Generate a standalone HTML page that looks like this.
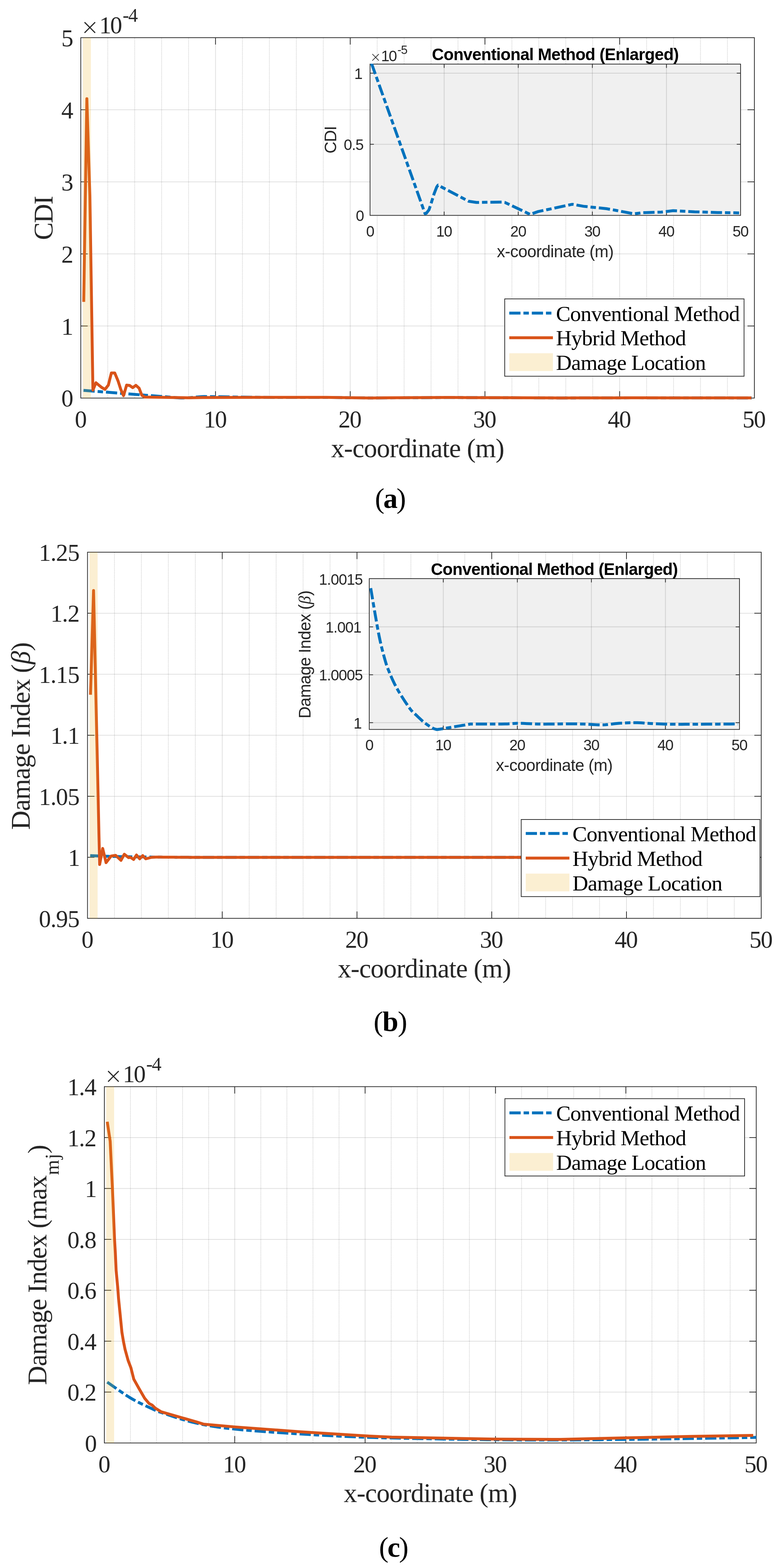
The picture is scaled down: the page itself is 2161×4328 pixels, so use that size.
<!DOCTYPE html>
<html lang="en">
<head>
<meta charset="utf-8">
<title>Damage index comparison: conventional vs hybrid method</title>
<style>
html,body{margin:0;padding:0;background:#fff;}
body{width:2161px;height:4328px;}
svg{display:block;}
text{white-space:pre;}
</style>
</head>
<body>
<svg width="2161" height="4328" viewBox="0 0 2161 4328">
<rect x="0" y="0" width="2161" height="4328" fill="#fff"/>
<line x1="297.36" y1="105" x2="297.36" y2="1097.75" stroke="#1a1a1a" stroke-width="2" stroke-opacity="0.21" stroke-dasharray="2 1.84"/>
<line x1="371.72" y1="105" x2="371.72" y2="1097.75" stroke="#1a1a1a" stroke-width="2" stroke-opacity="0.21" stroke-dasharray="2 1.84"/>
<line x1="446.08" y1="105" x2="446.08" y2="1097.75" stroke="#1a1a1a" stroke-width="2" stroke-opacity="0.21" stroke-dasharray="2 1.84"/>
<line x1="520.44" y1="105" x2="520.44" y2="1097.75" stroke="#1a1a1a" stroke-width="2" stroke-opacity="0.21" stroke-dasharray="2 1.84"/>
<line x1="669.16" y1="105" x2="669.16" y2="1097.75" stroke="#1a1a1a" stroke-width="2" stroke-opacity="0.21" stroke-dasharray="2 1.84"/>
<line x1="743.52" y1="105" x2="743.52" y2="1097.75" stroke="#1a1a1a" stroke-width="2" stroke-opacity="0.21" stroke-dasharray="2 1.84"/>
<line x1="817.88" y1="105" x2="817.88" y2="1097.75" stroke="#1a1a1a" stroke-width="2" stroke-opacity="0.21" stroke-dasharray="2 1.84"/>
<line x1="892.24" y1="105" x2="892.24" y2="1097.75" stroke="#1a1a1a" stroke-width="2" stroke-opacity="0.21" stroke-dasharray="2 1.84"/>
<line x1="1040.96" y1="105" x2="1040.96" y2="1097.75" stroke="#1a1a1a" stroke-width="2" stroke-opacity="0.21" stroke-dasharray="2 1.84"/>
<line x1="1115.32" y1="105" x2="1115.32" y2="1097.75" stroke="#1a1a1a" stroke-width="2" stroke-opacity="0.21" stroke-dasharray="2 1.84"/>
<line x1="1189.68" y1="105" x2="1189.68" y2="1097.75" stroke="#1a1a1a" stroke-width="2" stroke-opacity="0.21" stroke-dasharray="2 1.84"/>
<line x1="1264.04" y1="105" x2="1264.04" y2="1097.75" stroke="#1a1a1a" stroke-width="2" stroke-opacity="0.21" stroke-dasharray="2 1.84"/>
<line x1="1412.76" y1="105" x2="1412.76" y2="1097.75" stroke="#1a1a1a" stroke-width="2" stroke-opacity="0.21" stroke-dasharray="2 1.84"/>
<line x1="1487.12" y1="105" x2="1487.12" y2="1097.75" stroke="#1a1a1a" stroke-width="2" stroke-opacity="0.21" stroke-dasharray="2 1.84"/>
<line x1="1561.48" y1="105" x2="1561.48" y2="1097.75" stroke="#1a1a1a" stroke-width="2" stroke-opacity="0.21" stroke-dasharray="2 1.84"/>
<line x1="1635.84" y1="105" x2="1635.84" y2="1097.75" stroke="#1a1a1a" stroke-width="2" stroke-opacity="0.21" stroke-dasharray="2 1.84"/>
<line x1="1784.56" y1="105" x2="1784.56" y2="1097.75" stroke="#1a1a1a" stroke-width="2" stroke-opacity="0.21" stroke-dasharray="2 1.84"/>
<line x1="1858.92" y1="105" x2="1858.92" y2="1097.75" stroke="#1a1a1a" stroke-width="2" stroke-opacity="0.21" stroke-dasharray="2 1.84"/>
<line x1="1933.28" y1="105" x2="1933.28" y2="1097.75" stroke="#1a1a1a" stroke-width="2" stroke-opacity="0.21" stroke-dasharray="2 1.84"/>
<line x1="2007.64" y1="105" x2="2007.64" y2="1097.75" stroke="#1a1a1a" stroke-width="2" stroke-opacity="0.21" stroke-dasharray="2 1.84"/>
<line x1="594.8" y1="105" x2="594.8" y2="1097.75" stroke="#262626" stroke-width="2" stroke-opacity="0.15"/>
<line x1="966.6" y1="105" x2="966.6" y2="1097.75" stroke="#262626" stroke-width="2" stroke-opacity="0.15"/>
<line x1="1338.4" y1="105" x2="1338.4" y2="1097.75" stroke="#262626" stroke-width="2" stroke-opacity="0.15"/>
<line x1="1710.2" y1="105" x2="1710.2" y2="1097.75" stroke="#262626" stroke-width="2" stroke-opacity="0.15"/>
<line x1="224" y1="899.8" x2="2081" y2="899.8" stroke="#262626" stroke-width="2" stroke-opacity="0.15"/>
<line x1="224" y1="700.85" x2="2081" y2="700.85" stroke="#262626" stroke-width="2" stroke-opacity="0.15"/>
<line x1="224" y1="501.9" x2="2081" y2="501.9" stroke="#262626" stroke-width="2" stroke-opacity="0.15"/>
<line x1="224" y1="302.95" x2="2081" y2="302.95" stroke="#262626" stroke-width="2" stroke-opacity="0.15"/>
<rect x="223" y="104" width="1859" height="994.75" fill="none" stroke="#262626" stroke-width="2"/>
<line x1="594.8" y1="1098.75" x2="594.8" y2="1079.75" stroke="#262626" stroke-width="2"/>
<line x1="594.8" y1="104" x2="594.8" y2="123" stroke="#262626" stroke-width="2"/>
<line x1="966.6" y1="1098.75" x2="966.6" y2="1079.75" stroke="#262626" stroke-width="2"/>
<line x1="966.6" y1="104" x2="966.6" y2="123" stroke="#262626" stroke-width="2"/>
<line x1="1338.4" y1="1098.75" x2="1338.4" y2="1079.75" stroke="#262626" stroke-width="2"/>
<line x1="1338.4" y1="104" x2="1338.4" y2="123" stroke="#262626" stroke-width="2"/>
<line x1="1710.2" y1="1098.75" x2="1710.2" y2="1079.75" stroke="#262626" stroke-width="2"/>
<line x1="1710.2" y1="104" x2="1710.2" y2="123" stroke="#262626" stroke-width="2"/>
<line x1="223" y1="899.8" x2="242" y2="899.8" stroke="#262626" stroke-width="2"/>
<line x1="2082" y1="899.8" x2="2063" y2="899.8" stroke="#262626" stroke-width="2"/>
<line x1="223" y1="700.85" x2="242" y2="700.85" stroke="#262626" stroke-width="2"/>
<line x1="2082" y1="700.85" x2="2063" y2="700.85" stroke="#262626" stroke-width="2"/>
<line x1="223" y1="501.9" x2="242" y2="501.9" stroke="#262626" stroke-width="2"/>
<line x1="2082" y1="501.9" x2="2063" y2="501.9" stroke="#262626" stroke-width="2"/>
<line x1="223" y1="302.95" x2="242" y2="302.95" stroke="#262626" stroke-width="2"/>
<line x1="2082" y1="302.95" x2="2063" y2="302.95" stroke="#262626" stroke-width="2"/>
<text x="206.48" y="1179.75" font-family="&quot;Liberation Serif&quot;, serif" font-size="66.67" fill="#262626">0</text>
<text x="562.17" y="1179.75" font-family="&quot;Liberation Serif&quot;, serif" font-size="66.67" fill="#262626" textLength="64.47" lengthAdjust="spacing">10</text>
<text x="933.97" y="1179.75" font-family="&quot;Liberation Serif&quot;, serif" font-size="66.67" fill="#262626" textLength="64.47" lengthAdjust="spacing">20</text>
<text x="1305.77" y="1179.75" font-family="&quot;Liberation Serif&quot;, serif" font-size="66.67" fill="#262626" textLength="64.47" lengthAdjust="spacing">30</text>
<text x="1677.57" y="1179.75" font-family="&quot;Liberation Serif&quot;, serif" font-size="66.67" fill="#262626" textLength="64.47" lengthAdjust="spacing">40</text>
<text x="2049.37" y="1179.75" font-family="&quot;Liberation Serif&quot;, serif" font-size="66.67" fill="#262626" textLength="64.47" lengthAdjust="spacing">50</text>
<text x="169.27" y="1122.45" font-family="&quot;Liberation Serif&quot;, serif" font-size="66.67" fill="#262626">0</text>
<text x="169.27" y="923.5" font-family="&quot;Liberation Serif&quot;, serif" font-size="66.67" fill="#262626">1</text>
<text x="169.27" y="724.55" font-family="&quot;Liberation Serif&quot;, serif" font-size="66.67" fill="#262626">2</text>
<text x="169.27" y="525.6" font-family="&quot;Liberation Serif&quot;, serif" font-size="66.67" fill="#262626">3</text>
<text x="169.27" y="326.65" font-family="&quot;Liberation Serif&quot;, serif" font-size="66.67" fill="#262626">4</text>
<text x="169.27" y="127.7" font-family="&quot;Liberation Serif&quot;, serif" font-size="66.67" fill="#262626">5</text>
<text x="913.78" y="1261.95" font-family="&quot;Liberation Serif&quot;, serif" font-size="73.33" fill="#262626" textLength="478.44" lengthAdjust="spacing">x-coordinate (m)</text>
<text x="145.5" y="662.44" font-family="&quot;Liberation Serif&quot;, serif" font-size="73.33" fill="#262626" textLength="122.12" lengthAdjust="spacing" transform="rotate(-90 145.5 662.44)">CDI</text>
<text x="222.4" y="94.5" font-family="&quot;DejaVu Sans Light&quot;, &quot;DejaVu Sans&quot;, sans-serif" font-size="60.8" fill="#262626">×</text>
<text x="274" y="91.5" font-family="&quot;Liberation Serif&quot;, serif" font-size="66.67" fill="#262626" textLength="63.34" lengthAdjust="spacing">10</text>
<text x="338.5" y="59.7" font-family="&quot;Liberation Serif&quot;, serif" font-size="53.33" fill="#262626" textLength="42.2" lengthAdjust="spacing">-4</text>
<polyline points="230.44,1077.5 494.41,1098.15 499.25,1098.51 505.57,1098.45 518.95,1097.95 531.59,1096.88 544.61,1095.71 557.62,1094.77 563.94,1094.52 717.49,1096.77 756.53,1096.94 888.52,1096.89 899.68,1096.94 1026.09,1098.61 1066.99,1098.21 1238.01,1097.2 1293.78,1097.48 1409.04,1097.81 1457.38,1098.05 1546.61,1098.53 1591.22,1098.37 1684.17,1098.29 1743.66,1098.09 1851.48,1098.25 1966.74,1098.35 2074.56,1098.4" fill="none" stroke="#0072BD" stroke-width="8" stroke-linejoin="round" stroke-dasharray="31 8.1 15 8.1"/>
<polyline points="231.1,833.2 239.7,272.4 248,540 256.4,1077.05 264.8,1056.5 273.2,1063.5 280.3,1069.2 289.7,1074.8 299,1063.1 307.4,1029.5 316.7,1029.5 326,1051.9 333.5,1075.2 341,1092 349.4,1063.1 357.8,1064 366.2,1070 374.9,1063.6 383.9,1071.5 391.4,1091 399.8,1096.1 450,1096.8 520,1097.9 560,1097.2 717.49,1096.67 756.53,1096.84 888.52,1096.79 899.68,1096.84 1026.09,1098.51 1066.99,1098.11 1238.01,1097.1 1293.78,1097.38 1409.04,1097.71 1457.38,1097.95 1546.61,1098.43 1591.22,1098.27 1684.17,1098.19 1743.66,1097.99 1851.48,1098.15 1966.74,1098.25 2073.9,1098.3" fill="none" stroke="#D95319" stroke-width="8" stroke-linejoin="round"/>
<rect x="228.58" y="104" width="22.31" height="994.75" fill="#EDB120" fill-opacity="0.2"/>
<rect x="1393" y="825" width="660.5" height="213.5" fill="#fff" stroke="#262626" stroke-width="2"/>
<line x1="1405.5" y1="864.3" x2="1526" y2="864.3" stroke="#0072BD" stroke-width="8" stroke-dasharray="31 8.1 15 8.1"/>
<line x1="1405.5" y1="932.3" x2="1526" y2="932.3" stroke="#D95319" stroke-width="8"/>
<rect x="1405.5" y="975.1" width="120.5" height="49" fill="#EDB120" fill-opacity="0.2"/>
<text x="1534.5" y="885.6" font-family="&quot;Liberation Serif&quot;, serif" font-size="60" fill="#000" textLength="507.62" lengthAdjust="spacing">Conventional Method</text>
<text x="1534.5" y="953.4" font-family="&quot;Liberation Serif&quot;, serif" font-size="60" fill="#000" textLength="359.37" lengthAdjust="spacing">Hybrid Method</text>
<text x="1534.5" y="1021.3" font-family="&quot;Liberation Serif&quot;, serif" font-size="60" fill="#000" textLength="414.01" lengthAdjust="spacing">Damage Location</text>
<rect x="1021.3" y="176.9" width="1022.6" height="417.6" fill="#F0F0F0"/>
<line x1="1225.82" y1="177.9" x2="1225.82" y2="593.5" stroke="#262626" stroke-width="2" stroke-opacity="0.16"/>
<line x1="1430.34" y1="177.9" x2="1430.34" y2="593.5" stroke="#262626" stroke-width="2" stroke-opacity="0.16"/>
<line x1="1634.86" y1="177.9" x2="1634.86" y2="593.5" stroke="#262626" stroke-width="2" stroke-opacity="0.16"/>
<line x1="1839.38" y1="177.9" x2="1839.38" y2="593.5" stroke="#262626" stroke-width="2" stroke-opacity="0.16"/>
<line x1="1022.3" y1="398.2" x2="2042.9" y2="398.2" stroke="#262626" stroke-width="2" stroke-opacity="0.16"/>
<line x1="1022.3" y1="201.91" x2="2042.9" y2="201.91" stroke="#262626" stroke-width="2" stroke-opacity="0.16"/>
<rect x="1021.3" y="176.9" width="1022.6" height="417.6" fill="none" stroke="#262626" stroke-width="2"/>
<line x1="1225.82" y1="594.5" x2="1225.82" y2="584" stroke="#262626" stroke-width="2"/>
<line x1="1225.82" y1="176.9" x2="1225.82" y2="187.4" stroke="#262626" stroke-width="2"/>
<line x1="1430.34" y1="594.5" x2="1430.34" y2="584" stroke="#262626" stroke-width="2"/>
<line x1="1430.34" y1="176.9" x2="1430.34" y2="187.4" stroke="#262626" stroke-width="2"/>
<line x1="1634.86" y1="594.5" x2="1634.86" y2="584" stroke="#262626" stroke-width="2"/>
<line x1="1634.86" y1="176.9" x2="1634.86" y2="187.4" stroke="#262626" stroke-width="2"/>
<line x1="1839.38" y1="594.5" x2="1839.38" y2="584" stroke="#262626" stroke-width="2"/>
<line x1="1839.38" y1="176.9" x2="1839.38" y2="187.4" stroke="#262626" stroke-width="2"/>
<line x1="1021.3" y1="398.2" x2="1031.8" y2="398.2" stroke="#262626" stroke-width="2"/>
<line x1="2043.9" y1="398.2" x2="2033.4" y2="398.2" stroke="#262626" stroke-width="2"/>
<line x1="1021.3" y1="201.91" x2="1031.8" y2="201.91" stroke="#262626" stroke-width="2"/>
<line x1="2043.9" y1="201.91" x2="2033.4" y2="201.91" stroke="#262626" stroke-width="2"/>
<clipPath id="c33680"><rect x="1021.3" y="175.9" width="1022.6" height="423.6"/></clipPath>
<polyline points="1025.39,175.21 1170.6,582.72 1173.26,589.79 1176.74,588.61 1184.1,578.8 1191.05,557.6 1198.21,534.43 1205.37,515.98 1208.84,511.07 1293.31,555.44 1314.79,558.77 1387.39,557.79 1393.53,558.77 1463.06,591.75 1485.56,583.9 1579.64,563.88 1610.32,569.37 1673.72,576.05 1700.31,580.76 1749.39,590.18 1773.93,587.04 1825.06,585.47 1857.79,581.54 1917.1,584.69 1980.5,586.65 2039.81,587.63" fill="none" stroke="#0072BD" stroke-width="8" stroke-linejoin="round" stroke-dasharray="31 8.1 15 8.1" clip-path="url(#c33680)"/>
<text x="1010.39" y="652.5" font-family="&quot;Liberation Sans&quot;, sans-serif" font-size="41.67" fill="#262626">0</text>
<text x="1203.71" y="652.5" font-family="&quot;Liberation Sans&quot;, sans-serif" font-size="41.67" fill="#262626" textLength="44.82" lengthAdjust="spacing">10</text>
<text x="1408.23" y="652.5" font-family="&quot;Liberation Sans&quot;, sans-serif" font-size="41.67" fill="#262626" textLength="44.82" lengthAdjust="spacing">20</text>
<text x="1612.75" y="652.5" font-family="&quot;Liberation Sans&quot;, sans-serif" font-size="41.67" fill="#262626" textLength="44.82" lengthAdjust="spacing">30</text>
<text x="1817.27" y="652.5" font-family="&quot;Liberation Sans&quot;, sans-serif" font-size="41.67" fill="#262626" textLength="44.82" lengthAdjust="spacing">40</text>
<text x="2021.79" y="652.5" font-family="&quot;Liberation Sans&quot;, sans-serif" font-size="41.67" fill="#262626" textLength="44.82" lengthAdjust="spacing">50</text>
<text x="981.97" y="610.3" font-family="&quot;Liberation Sans&quot;, sans-serif" font-size="41.67" fill="#262626">0</text>
<text x="948.78" y="414" font-family="&quot;Liberation Sans&quot;, sans-serif" font-size="41.67" fill="#262626" textLength="55.32" lengthAdjust="spacing">0.5</text>
<text x="977.87" y="217.71" font-family="&quot;Liberation Sans&quot;, sans-serif" font-size="41.67" fill="#262626">1</text>
<text x="1371.29" y="709.5" font-family="&quot;Liberation Sans&quot;, sans-serif" font-size="45.83" fill="#262626" textLength="322.63" lengthAdjust="spacing">x-coordinate (m)</text>
<text x="1191.9" y="166.4" font-family="&quot;Liberation Sans&quot;, sans-serif" font-size="45.83" font-weight="700" fill="#000" textLength="681.99" lengthAdjust="spacing">Conventional Method (Enlarged)</text>
<text x="928" y="423.86" font-family="&quot;Liberation Sans&quot;, sans-serif" font-size="45.83" fill="#262626" textLength="76.32" lengthAdjust="spacing" transform="rotate(-90 928 423.86)">CDI</text>
<text x="1021.1" y="169.7" font-family="&quot;DejaVu Sans Light&quot;, &quot;DejaVu Sans&quot;, sans-serif" font-size="37.25" fill="#262626">×</text>
<text x="1051.8" y="169.2" font-family="&quot;Liberation Sans&quot;, sans-serif" font-size="41.67" fill="#262626" textLength="44.03" lengthAdjust="spacing">10</text>
<text x="1096.8" y="148.7" font-family="&quot;Liberation Sans&quot;, sans-serif" font-size="33.33" fill="#262626" textLength="28.15" lengthAdjust="spacing">-5</text>
<text x="1034.87" y="1402.3" font-family="&quot;Liberation Serif&quot;, serif" font-size="79" fill="#000" textLength="85.67" lengthAdjust="spacing">(<tspan font-weight="700">a</tspan>)</text>
<line x1="315.88" y1="1525.2" x2="315.88" y2="2533.8" stroke="#1a1a1a" stroke-width="2" stroke-opacity="0.21" stroke-dasharray="2 1.84"/>
<line x1="390.25" y1="1525.2" x2="390.25" y2="2533.8" stroke="#1a1a1a" stroke-width="2" stroke-opacity="0.21" stroke-dasharray="2 1.84"/>
<line x1="464.63" y1="1525.2" x2="464.63" y2="2533.8" stroke="#1a1a1a" stroke-width="2" stroke-opacity="0.21" stroke-dasharray="2 1.84"/>
<line x1="539" y1="1525.2" x2="539" y2="2533.8" stroke="#1a1a1a" stroke-width="2" stroke-opacity="0.21" stroke-dasharray="2 1.84"/>
<line x1="687.76" y1="1525.2" x2="687.76" y2="2533.8" stroke="#1a1a1a" stroke-width="2" stroke-opacity="0.21" stroke-dasharray="2 1.84"/>
<line x1="762.13" y1="1525.2" x2="762.13" y2="2533.8" stroke="#1a1a1a" stroke-width="2" stroke-opacity="0.21" stroke-dasharray="2 1.84"/>
<line x1="836.51" y1="1525.2" x2="836.51" y2="2533.8" stroke="#1a1a1a" stroke-width="2" stroke-opacity="0.21" stroke-dasharray="2 1.84"/>
<line x1="910.88" y1="1525.2" x2="910.88" y2="2533.8" stroke="#1a1a1a" stroke-width="2" stroke-opacity="0.21" stroke-dasharray="2 1.84"/>
<line x1="1059.64" y1="1525.2" x2="1059.64" y2="2533.8" stroke="#1a1a1a" stroke-width="2" stroke-opacity="0.21" stroke-dasharray="2 1.84"/>
<line x1="1134.01" y1="1525.2" x2="1134.01" y2="2533.8" stroke="#1a1a1a" stroke-width="2" stroke-opacity="0.21" stroke-dasharray="2 1.84"/>
<line x1="1208.39" y1="1525.2" x2="1208.39" y2="2533.8" stroke="#1a1a1a" stroke-width="2" stroke-opacity="0.21" stroke-dasharray="2 1.84"/>
<line x1="1282.76" y1="1525.2" x2="1282.76" y2="2533.8" stroke="#1a1a1a" stroke-width="2" stroke-opacity="0.21" stroke-dasharray="2 1.84"/>
<line x1="1431.52" y1="1525.2" x2="1431.52" y2="2533.8" stroke="#1a1a1a" stroke-width="2" stroke-opacity="0.21" stroke-dasharray="2 1.84"/>
<line x1="1505.89" y1="1525.2" x2="1505.89" y2="2533.8" stroke="#1a1a1a" stroke-width="2" stroke-opacity="0.21" stroke-dasharray="2 1.84"/>
<line x1="1580.27" y1="1525.2" x2="1580.27" y2="2533.8" stroke="#1a1a1a" stroke-width="2" stroke-opacity="0.21" stroke-dasharray="2 1.84"/>
<line x1="1654.64" y1="1525.2" x2="1654.64" y2="2533.8" stroke="#1a1a1a" stroke-width="2" stroke-opacity="0.21" stroke-dasharray="2 1.84"/>
<line x1="1803.4" y1="1525.2" x2="1803.4" y2="2533.8" stroke="#1a1a1a" stroke-width="2" stroke-opacity="0.21" stroke-dasharray="2 1.84"/>
<line x1="1877.77" y1="1525.2" x2="1877.77" y2="2533.8" stroke="#1a1a1a" stroke-width="2" stroke-opacity="0.21" stroke-dasharray="2 1.84"/>
<line x1="1952.15" y1="1525.2" x2="1952.15" y2="2533.8" stroke="#1a1a1a" stroke-width="2" stroke-opacity="0.21" stroke-dasharray="2 1.84"/>
<line x1="2026.52" y1="1525.2" x2="2026.52" y2="2533.8" stroke="#1a1a1a" stroke-width="2" stroke-opacity="0.21" stroke-dasharray="2 1.84"/>
<line x1="613.38" y1="1525.2" x2="613.38" y2="2533.8" stroke="#262626" stroke-width="2" stroke-opacity="0.15"/>
<line x1="985.26" y1="1525.2" x2="985.26" y2="2533.8" stroke="#262626" stroke-width="2" stroke-opacity="0.15"/>
<line x1="1357.14" y1="1525.2" x2="1357.14" y2="2533.8" stroke="#262626" stroke-width="2" stroke-opacity="0.15"/>
<line x1="1729.02" y1="1525.2" x2="1729.02" y2="2533.8" stroke="#262626" stroke-width="2" stroke-opacity="0.15"/>
<line x1="242.5" y1="2366.37" x2="2099.9" y2="2366.37" stroke="#262626" stroke-width="2" stroke-opacity="0.15"/>
<line x1="242.5" y1="2197.93" x2="2099.9" y2="2197.93" stroke="#262626" stroke-width="2" stroke-opacity="0.15"/>
<line x1="242.5" y1="2029.5" x2="2099.9" y2="2029.5" stroke="#262626" stroke-width="2" stroke-opacity="0.15"/>
<line x1="242.5" y1="1861.07" x2="2099.9" y2="1861.07" stroke="#262626" stroke-width="2" stroke-opacity="0.15"/>
<line x1="242.5" y1="1692.63" x2="2099.9" y2="1692.63" stroke="#262626" stroke-width="2" stroke-opacity="0.15"/>
<rect x="241.5" y="1524.2" width="1859.4" height="1010.6" fill="none" stroke="#262626" stroke-width="2"/>
<line x1="613.38" y1="2534.8" x2="613.38" y2="2515.8" stroke="#262626" stroke-width="2"/>
<line x1="613.38" y1="1524.2" x2="613.38" y2="1543.2" stroke="#262626" stroke-width="2"/>
<line x1="985.26" y1="2534.8" x2="985.26" y2="2515.8" stroke="#262626" stroke-width="2"/>
<line x1="985.26" y1="1524.2" x2="985.26" y2="1543.2" stroke="#262626" stroke-width="2"/>
<line x1="1357.14" y1="2534.8" x2="1357.14" y2="2515.8" stroke="#262626" stroke-width="2"/>
<line x1="1357.14" y1="1524.2" x2="1357.14" y2="1543.2" stroke="#262626" stroke-width="2"/>
<line x1="1729.02" y1="2534.8" x2="1729.02" y2="2515.8" stroke="#262626" stroke-width="2"/>
<line x1="1729.02" y1="1524.2" x2="1729.02" y2="1543.2" stroke="#262626" stroke-width="2"/>
<line x1="241.5" y1="2366.37" x2="260.5" y2="2366.37" stroke="#262626" stroke-width="2"/>
<line x1="2100.9" y1="2366.37" x2="2081.9" y2="2366.37" stroke="#262626" stroke-width="2"/>
<line x1="241.5" y1="2197.93" x2="260.5" y2="2197.93" stroke="#262626" stroke-width="2"/>
<line x1="2100.9" y1="2197.93" x2="2081.9" y2="2197.93" stroke="#262626" stroke-width="2"/>
<line x1="241.5" y1="2029.5" x2="260.5" y2="2029.5" stroke="#262626" stroke-width="2"/>
<line x1="2100.9" y1="2029.5" x2="2081.9" y2="2029.5" stroke="#262626" stroke-width="2"/>
<line x1="241.5" y1="1861.07" x2="260.5" y2="1861.07" stroke="#262626" stroke-width="2"/>
<line x1="2100.9" y1="1861.07" x2="2081.9" y2="1861.07" stroke="#262626" stroke-width="2"/>
<line x1="241.5" y1="1692.63" x2="260.5" y2="1692.63" stroke="#262626" stroke-width="2"/>
<line x1="2100.9" y1="1692.63" x2="2081.9" y2="1692.63" stroke="#262626" stroke-width="2"/>
<text x="224.98" y="2615.8" font-family="&quot;Liberation Serif&quot;, serif" font-size="66.67" fill="#262626">0</text>
<text x="580.75" y="2615.8" font-family="&quot;Liberation Serif&quot;, serif" font-size="66.67" fill="#262626" textLength="64.47" lengthAdjust="spacing">10</text>
<text x="952.63" y="2615.8" font-family="&quot;Liberation Serif&quot;, serif" font-size="66.67" fill="#262626" textLength="64.47" lengthAdjust="spacing">20</text>
<text x="1324.51" y="2615.8" font-family="&quot;Liberation Serif&quot;, serif" font-size="66.67" fill="#262626" textLength="64.47" lengthAdjust="spacing">30</text>
<text x="1696.39" y="2615.8" font-family="&quot;Liberation Serif&quot;, serif" font-size="66.67" fill="#262626" textLength="64.47" lengthAdjust="spacing">40</text>
<text x="2068.27" y="2615.8" font-family="&quot;Liberation Serif&quot;, serif" font-size="66.67" fill="#262626" textLength="64.47" lengthAdjust="spacing">50</text>
<text x="107.18" y="2558.5" font-family="&quot;Liberation Serif&quot;, serif" font-size="66.67" fill="#262626" textLength="112.82" lengthAdjust="spacing">0.95</text>
<text x="187.77" y="2390.07" font-family="&quot;Liberation Serif&quot;, serif" font-size="66.67" fill="#262626">1</text>
<text x="107.18" y="2221.63" font-family="&quot;Liberation Serif&quot;, serif" font-size="66.67" fill="#262626" textLength="112.82" lengthAdjust="spacing">1.05</text>
<text x="139.41" y="2053.2" font-family="&quot;Liberation Serif&quot;, serif" font-size="66.67" fill="#262626" textLength="80.59" lengthAdjust="spacing">1.1</text>
<text x="107.18" y="1884.77" font-family="&quot;Liberation Serif&quot;, serif" font-size="66.67" fill="#262626" textLength="112.82" lengthAdjust="spacing">1.15</text>
<text x="139.41" y="1716.33" font-family="&quot;Liberation Serif&quot;, serif" font-size="66.67" fill="#262626" textLength="80.59" lengthAdjust="spacing">1.2</text>
<text x="107.18" y="1547.9" font-family="&quot;Liberation Serif&quot;, serif" font-size="66.67" fill="#262626" textLength="112.82" lengthAdjust="spacing">1.25</text>
<text x="932.48" y="2698" font-family="&quot;Liberation Serif&quot;, serif" font-size="73.33" fill="#262626" textLength="478.44" lengthAdjust="spacing">x-coordinate (m)</text>
<g transform="rotate(-90 82.5 2290.15)">
<text x="82.5" y="2290.15" font-family="&quot;Liberation Serif&quot;, serif" font-size="73.33" fill="#262626" textLength="456.76" lengthAdjust="spacing">Damage Index (</text>
<text x="539.26" y="2290.15" font-family="&quot;Liberation Serif&quot;, serif" font-size="73.33" font-style="italic" fill="#262626">β</text>
<text x="575.78" y="2290.15" font-family="&quot;Liberation Serif&quot;, serif" font-size="73.33" fill="#262626">)</text>
</g>
<polyline points="248.94,2361.64 250.67,2361.71 252.97,2361.81 255.71,2361.92 258.76,2362.05 261.97,2362.18 265.21,2362.32 268.35,2362.44 271.25,2362.56 273.96,2362.67 276.62,2362.77 279.26,2362.88 281.88,2362.98 284.52,2363.09 287.18,2363.18 289.88,2363.28 292.63,2363.38 295.46,2363.47 298.34,2363.56 301.25,2363.64 304.2,2363.73 307.15,2363.81 310.09,2363.89 313,2363.97 315.88,2364.04 318.57,2364.11 321.04,2364.17 323.41,2364.23 325.81,2364.28 328.36,2364.34 331.19,2364.4 334.43,2364.46 338.19,2364.52 342.41,2364.6 346.95,2364.67 351.81,2364.75 356.99,2364.83 362.49,2364.92 368.32,2365 374.47,2365.08 380.96,2365.17 388.1,2365.25 396.06,2365.35 404.53,2365.44 413.23,2365.54 421.87,2365.63 430.16,2365.72 437.82,2365.8 444.55,2365.86 450.27,2365.91 455.24,2365.96 459.63,2365.99 463.65,2366.02 467.47,2366.04 471.29,2366.06 475.3,2366.09 479.69,2366.12 484.39,2366.15 489.19,2366.18 494.08,2366.21 499.01,2366.25 503.98,2366.28 508.95,2366.31 513.9,2366.34 518.81,2366.37 523.8,2366.39 528.94,2366.42 534.14,2366.45 539.3,2366.47 544.34,2366.49 549.15,2366.51 553.66,2366.53 557.75,2366.55 561.52,2366.56 565.11,2366.57 568.47,2366.58 571.56,2366.59 574.35,2366.6 576.8,2366.6 578.86,2366.6 580.51,2366.61 581.6,2366.61 583.05,2366.61 584.78,2366.61 586.71,2366.6 588.75,2366.6 590.83,2366.6 592.87,2366.6 594.79,2366.6 596.29,2366.6 597.31,2366.59 598.16,2366.59 599.12,2366.59 600.47,2366.59 602.51,2366.59 605.53,2366.59 609.81,2366.58 615.58,2366.57 622.67,2366.57 630.75,2366.56 639.5,2366.55 648.62,2366.53 657.78,2366.52 666.67,2366.51 674.96,2366.5 683.12,2366.49 691.64,2366.48 700.27,2366.47 708.75,2366.46 716.83,2366.45 724.25,2366.45 730.76,2366.44 736.1,2366.43 740.06,2366.43 742.79,2366.42 744.59,2366.42 745.74,2366.42 746.54,2366.42 747.28,2366.42 748.25,2366.42 749.75,2366.42 750.68,2366.42 750.31,2366.41 749.44,2366.41 748.88,2366.41 749.43,2366.42 751.9,2366.42 757.11,2366.42 765.85,2366.42 779.27,2366.42 797.07,2366.42 817.95,2366.42 840.58,2366.42 863.65,2366.42 885.83,2366.41 905.81,2366.41 922.26,2366.41 935.01,2366.41 945.23,2366.41 953.64,2366.4 960.97,2366.4 967.95,2366.4 975.29,2366.39 983.72,2366.39 993.96,2366.39 1005.71,2366.39 1018.12,2366.39 1031.17,2366.4 1044.81,2366.4 1059.01,2366.41 1073.73,2366.41 1088.94,2366.41 1104.6,2366.42 1121.45,2366.42 1139.85,2366.42 1159.18,2366.41 1178.81,2366.41 1198.11,2366.41 1216.46,2366.41 1233.24,2366.41 1247.81,2366.41 1259.77,2366.41 1269.56,2366.41 1277.78,2366.41 1285.04,2366.41 1291.96,2366.41 1299.15,2366.41 1307.21,2366.41 1316.75,2366.42 1327.83,2366.42 1339.88,2366.42 1352.59,2366.43 1365.68,2366.43 1378.84,2366.44 1391.76,2366.44 1404.17,2366.44 1415.75,2366.44 1426.47,2366.44 1436.59,2366.44 1446.28,2366.43 1455.7,2366.42 1465,2366.41 1474.35,2366.4 1483.91,2366.4 1493.84,2366.39 1504.11,2366.38 1514.54,2366.38 1525.09,2366.38 1535.74,2366.37 1546.43,2366.37 1557.14,2366.37 1567.83,2366.37 1578.45,2366.37 1588.98,2366.37 1599.44,2366.37 1609.88,2366.37 1620.34,2366.38 1630.84,2366.38 1641.43,2366.39 1652.16,2366.39 1663.05,2366.4 1673.87,2366.4 1684.47,2366.41 1695.05,2366.41 1705.8,2366.41 1716.9,2366.41 1728.55,2366.42 1740.93,2366.42 1754.23,2366.42 1768.1,2366.42 1782.19,2366.42 1796.74,2366.42 1811.97,2366.42 1828.12,2366.42 1845.41,2366.42 1864.08,2366.42 1884.35,2366.42 1908.08,2366.42 1935.83,2366.42 1965.92,2366.42 1996.67,2366.42 2026.4,2366.42 2053.44,2366.41 2076.11,2366.41 2092.72,2366.41" fill="none" stroke="#0072BD" stroke-width="8" stroke-linejoin="round" stroke-dasharray="31 8.1 15 8.1"/>
<polyline points="249.8,1917.6 258.2,1630 273,2300 275,2386.1 283.4,2342 292.7,2381 306.5,2363 319.1,2360.9 333.8,2374.7 343.1,2357.9 354.8,2367.2 360,2366.5 368.7,2372.2 376.7,2360 385.5,2370.5 393.9,2361.7 402.3,2370.5 417.8,2366.5 430.16,2365.72 437.82,2365.8 444.55,2365.86 450.27,2365.91 455.24,2365.96 459.63,2365.99 463.65,2366.02 467.47,2366.04 471.29,2366.06 475.3,2366.09 479.69,2366.12 484.39,2366.15 489.19,2366.18 494.08,2366.21 499.01,2366.25 503.98,2366.28 508.95,2366.31 513.9,2366.34 518.81,2366.37 523.8,2366.39 528.94,2366.42 534.14,2366.45 539.3,2366.47 544.34,2366.49 549.15,2366.51 553.66,2366.53 557.75,2366.55 561.52,2366.56 565.11,2366.57 568.47,2366.58 571.56,2366.59 574.35,2366.6 576.8,2366.6 578.86,2366.6 580.51,2366.61 581.6,2366.61 583.05,2366.61 584.78,2366.61 586.71,2366.6 588.75,2366.6 590.83,2366.6 592.87,2366.6 594.79,2366.6 596.29,2366.6 597.31,2366.59 598.16,2366.59 599.12,2366.59 600.47,2366.59 602.51,2366.59 605.53,2366.59 609.81,2366.58 615.58,2366.57 622.67,2366.57 630.75,2366.56 639.5,2366.55 648.62,2366.53 657.78,2366.52 666.67,2366.51 674.96,2366.5 683.12,2366.49 691.64,2366.48 700.27,2366.47 708.75,2366.46 716.83,2366.45 724.25,2366.45 730.76,2366.44 736.1,2366.43 740.06,2366.43 742.79,2366.42 744.59,2366.42 745.74,2366.42 746.54,2366.42 747.28,2366.42 748.25,2366.42 749.75,2366.42 750.68,2366.42 750.31,2366.41 749.44,2366.41 748.88,2366.41 749.43,2366.42 751.9,2366.42 757.11,2366.42 765.85,2366.42 779.27,2366.42 797.07,2366.42 817.95,2366.42 840.58,2366.42 863.65,2366.42 885.83,2366.41 905.81,2366.41 922.26,2366.41 935.01,2366.41 945.23,2366.41 953.64,2366.4 960.97,2366.4 967.95,2366.4 975.29,2366.39 983.72,2366.39 993.96,2366.39 1005.71,2366.39 1018.12,2366.39 1031.17,2366.4 1044.81,2366.4 1059.01,2366.41 1073.73,2366.41 1088.94,2366.41 1104.6,2366.42 1121.45,2366.42 1139.85,2366.42 1159.18,2366.41 1178.81,2366.41 1198.11,2366.41 1216.46,2366.41 1233.24,2366.41 1247.81,2366.41 1259.77,2366.41 1269.56,2366.41 1277.78,2366.41 1285.04,2366.41 1291.96,2366.41 1299.15,2366.41 1307.21,2366.41 1316.75,2366.42 1327.83,2366.42 1339.88,2366.42 1352.59,2366.43 1365.68,2366.43 1378.84,2366.44 1391.76,2366.44 1404.17,2366.44 1415.75,2366.44 1426.47,2366.44 1436.59,2366.44 1446.28,2366.43 1455.7,2366.42 1465,2366.41 1474.35,2366.4 1483.91,2366.4 1493.84,2366.39 1504.11,2366.38 1514.54,2366.38 1525.09,2366.38 1535.74,2366.37 1546.43,2366.37 1557.14,2366.37 1567.83,2366.37 1578.45,2366.37 1588.98,2366.37 1599.44,2366.37 1609.88,2366.37 1620.34,2366.38 1630.84,2366.38 1641.43,2366.39 1652.16,2366.39 1663.05,2366.4 1673.87,2366.4 1684.47,2366.41 1695.05,2366.41 1705.8,2366.41 1716.9,2366.41 1728.55,2366.42 1740.93,2366.42 1754.23,2366.42 1768.1,2366.42 1782.19,2366.42 1796.74,2366.42 1811.97,2366.42 1828.12,2366.42 1845.41,2366.42 1864.08,2366.42 1884.35,2366.42 1908.08,2366.42 1935.83,2366.42 1965.92,2366.42 1996.67,2366.42 2026.4,2366.42 2053.44,2366.41 2076.11,2366.41 2092.5,2366.41" fill="none" stroke="#D95319" stroke-width="8" stroke-linejoin="round"/>
<rect x="247.08" y="1524.2" width="22.31" height="1010.6" fill="#EDB120" fill-opacity="0.2"/>
<rect x="1438.5" y="2262" width="659" height="212.8" fill="#fff" stroke="#262626" stroke-width="2"/>
<line x1="1451" y1="2300.5" x2="1571.5" y2="2300.5" stroke="#0072BD" stroke-width="8" stroke-dasharray="31 8.1 15 8.1"/>
<line x1="1451" y1="2368.5" x2="1571.5" y2="2368.5" stroke="#D95319" stroke-width="8"/>
<rect x="1451" y="2411.3" width="120.5" height="49" fill="#EDB120" fill-opacity="0.2"/>
<text x="1580" y="2321.8" font-family="&quot;Liberation Serif&quot;, serif" font-size="60" fill="#000" textLength="507.62" lengthAdjust="spacing">Conventional Method</text>
<text x="1580" y="2389.6" font-family="&quot;Liberation Serif&quot;, serif" font-size="60" fill="#000" textLength="359.37" lengthAdjust="spacing">Hybrid Method</text>
<text x="1580" y="2457.5" font-family="&quot;Liberation Serif&quot;, serif" font-size="60" fill="#000" textLength="414.01" lengthAdjust="spacing">Damage Location</text>
<rect x="1019.1" y="1597.1" width="1021.8" height="416.3" fill="#F0F0F0"/>
<line x1="1223.46" y1="1598.1" x2="1223.46" y2="2012.4" stroke="#262626" stroke-width="2" stroke-opacity="0.16"/>
<line x1="1427.82" y1="1598.1" x2="1427.82" y2="2012.4" stroke="#262626" stroke-width="2" stroke-opacity="0.16"/>
<line x1="1632.18" y1="1598.1" x2="1632.18" y2="2012.4" stroke="#262626" stroke-width="2" stroke-opacity="0.16"/>
<line x1="1836.54" y1="1598.1" x2="1836.54" y2="2012.4" stroke="#262626" stroke-width="2" stroke-opacity="0.16"/>
<line x1="1020.1" y1="1994.71" x2="2039.9" y2="1994.71" stroke="#262626" stroke-width="2" stroke-opacity="0.16"/>
<line x1="1020.1" y1="1862.51" x2="2039.9" y2="1862.51" stroke="#262626" stroke-width="2" stroke-opacity="0.16"/>
<line x1="1020.1" y1="1730.31" x2="2039.9" y2="1730.31" stroke="#262626" stroke-width="2" stroke-opacity="0.16"/>
<rect x="1019.1" y="1597.1" width="1021.8" height="416.3" fill="none" stroke="#262626" stroke-width="2"/>
<line x1="1223.46" y1="2013.4" x2="1223.46" y2="2002.9" stroke="#262626" stroke-width="2"/>
<line x1="1223.46" y1="1597.1" x2="1223.46" y2="1607.6" stroke="#262626" stroke-width="2"/>
<line x1="1427.82" y1="2013.4" x2="1427.82" y2="2002.9" stroke="#262626" stroke-width="2"/>
<line x1="1427.82" y1="1597.1" x2="1427.82" y2="1607.6" stroke="#262626" stroke-width="2"/>
<line x1="1632.18" y1="2013.4" x2="1632.18" y2="2002.9" stroke="#262626" stroke-width="2"/>
<line x1="1632.18" y1="1597.1" x2="1632.18" y2="1607.6" stroke="#262626" stroke-width="2"/>
<line x1="1836.54" y1="2013.4" x2="1836.54" y2="2002.9" stroke="#262626" stroke-width="2"/>
<line x1="1836.54" y1="1597.1" x2="1836.54" y2="1607.6" stroke="#262626" stroke-width="2"/>
<line x1="1019.1" y1="1994.71" x2="1029.6" y2="1994.71" stroke="#262626" stroke-width="2"/>
<line x1="2040.9" y1="1994.71" x2="2030.4" y2="1994.71" stroke="#262626" stroke-width="2"/>
<line x1="1019.1" y1="1862.51" x2="1029.6" y2="1862.51" stroke="#262626" stroke-width="2"/>
<line x1="2040.9" y1="1862.51" x2="2030.4" y2="1862.51" stroke="#262626" stroke-width="2"/>
<line x1="1019.1" y1="1730.31" x2="1029.6" y2="1730.31" stroke="#262626" stroke-width="2"/>
<line x1="2040.9" y1="1730.31" x2="2030.4" y2="1730.31" stroke="#262626" stroke-width="2"/>
<clipPath id="c24272"><rect x="1019.1" y="1596.1" width="1021.8" height="422.3"/></clipPath>
<polyline points="1023.19,1623.49 1024.14,1629.13 1025.4,1636.7 1026.91,1645.72 1028.58,1655.71 1030.35,1666.2 1032.13,1676.72 1033.86,1686.79 1035.45,1695.93 1036.94,1704.42 1038.4,1712.8 1039.85,1721.06 1041.29,1729.18 1042.74,1737.15 1044.2,1744.94 1045.69,1752.53 1047.2,1759.92 1048.75,1767.12 1050.33,1774.17 1051.94,1781.04 1053.55,1787.73 1055.17,1794.21 1056.79,1800.48 1058.39,1806.5 1059.97,1812.27 1061.45,1817.61 1062.81,1822.45 1064.11,1826.96 1065.43,1831.29 1066.83,1835.61 1068.39,1840.08 1070.17,1844.85 1072.23,1850.08 1074.56,1855.76 1077.05,1861.72 1079.72,1867.91 1082.57,1874.29 1085.59,1880.79 1088.79,1887.38 1092.17,1893.99 1095.74,1900.58 1099.66,1907.43 1104.03,1914.73 1108.69,1922.23 1113.47,1929.72 1118.22,1936.97 1122.78,1943.76 1126.98,1949.86 1130.68,1955.05 1133.83,1959.19 1136.56,1962.47 1138.97,1965.07 1141.18,1967.2 1143.28,1969.06 1145.38,1970.85 1147.58,1972.76 1149.99,1975.01 1152.58,1977.52 1155.22,1980.08 1157.9,1982.65 1160.61,1985.21 1163.34,1987.73 1166.07,1990.17 1168.79,1992.5 1171.49,1994.71 1174.23,1996.82 1177.06,1998.89 1179.91,2000.89 1182.75,2002.8 1185.52,2004.59 1188.17,2006.24 1190.64,2007.72 1192.89,2009.01 1194.96,2010.09 1196.93,2010.97 1198.78,2011.68 1200.48,2012.24 1202.01,2012.7 1203.36,2013.08 1204.49,2013.4 1205.39,2013.69 1206,2013.62 1206.8,2013.53 1207.74,2013.42 1208.8,2013.29 1209.92,2013.16 1211.07,2013.02 1212.19,2012.88 1213.24,2012.74 1214.07,2012.63 1214.63,2012.56 1215.1,2012.51 1215.62,2012.44 1216.37,2012.33 1217.49,2012.16 1219.15,2011.89 1221.5,2011.5 1224.67,2010.96 1228.56,2010.3 1233,2009.54 1237.82,2008.71 1242.83,2007.85 1247.86,2006.99 1252.74,2006.16 1257.3,2005.39 1261.79,2004.64 1266.47,2003.86 1271.21,2003.08 1275.87,2002.31 1280.31,2001.58 1284.39,2000.91 1287.96,2000.32 1290.9,1999.84 1293.08,1999.47 1294.58,1999.2 1295.56,1999 1296.2,1998.87 1296.63,1998.78 1297.04,1998.72 1297.58,1998.66 1298.4,1998.59 1298.91,1998.53 1298.71,1998.49 1298.23,1998.48 1297.92,1998.49 1298.22,1998.5 1299.58,1998.52 1302.44,1998.52 1307.25,1998.51 1314.62,1998.5 1324.41,1998.51 1335.88,1998.51 1348.32,1998.52 1360.99,1998.5 1373.18,1998.47 1384.16,1998.41 1393.2,1998.3 1400.21,1998.13 1405.82,1997.87 1410.45,1997.57 1414.47,1997.26 1418.31,1996.96 1422.34,1996.72 1426.97,1996.55 1432.6,1996.5 1439.06,1996.6 1445.88,1996.82 1453.05,1997.13 1460.54,1997.48 1468.35,1997.84 1476.44,1998.18 1484.8,1998.44 1493.4,1998.59 1502.66,1998.63 1512.77,1998.58 1523.39,1998.48 1534.18,1998.34 1544.79,1998.19 1554.87,1998.05 1564.09,1997.95 1572.1,1997.91 1578.67,1997.92 1584.05,1997.95 1588.57,1998 1592.56,1998.07 1596.36,1998.16 1600.31,1998.28 1604.74,1998.43 1609.99,1998.59 1616.07,1998.84 1622.69,1999.19 1629.68,1999.59 1636.87,2000 1644.1,2000.37 1651.21,2000.66 1658.02,2000.81 1664.39,2000.79 1670.28,2000.55 1675.84,2000.11 1681.16,1999.55 1686.34,1998.9 1691.45,1998.21 1696.59,1997.55 1701.85,1996.97 1707.3,1996.5 1712.94,1996.13 1718.67,1995.78 1724.48,1995.46 1730.33,1995.18 1736.2,1994.96 1742.09,1994.8 1747.96,1994.71 1753.79,1994.71 1759.58,1994.82 1765.33,1995.04 1771.07,1995.36 1776.81,1995.72 1782.59,1996.12 1788.41,1996.52 1794.3,1996.89 1800.29,1997.19 1806.23,1997.46 1812.06,1997.73 1817.87,1998 1823.78,1998.25 1829.88,1998.48 1836.28,1998.68 1843.08,1998.86 1850.4,1998.99 1858.02,1999.08 1865.76,1999.13 1873.75,1999.15 1882.12,1999.15 1891,1999.12 1900.5,1999.08 1910.76,1999.04 1921.9,1998.99 1934.94,1998.93 1950.19,1998.85 1966.72,1998.75 1983.62,1998.65 1999.96,1998.54 2014.82,1998.44 2027.28,1998.36 2036.4,1998.3" fill="none" stroke="#0072BD" stroke-width="8" stroke-linejoin="round" stroke-dasharray="31 8.1 15 8.1" clip-path="url(#c24272)"/>
<text x="1008.19" y="2071.4" font-family="&quot;Liberation Sans&quot;, sans-serif" font-size="41.67" fill="#262626">0</text>
<text x="1201.35" y="2071.4" font-family="&quot;Liberation Sans&quot;, sans-serif" font-size="41.67" fill="#262626" textLength="44.82" lengthAdjust="spacing">10</text>
<text x="1405.71" y="2071.4" font-family="&quot;Liberation Sans&quot;, sans-serif" font-size="41.67" fill="#262626" textLength="44.82" lengthAdjust="spacing">20</text>
<text x="1610.07" y="2071.4" font-family="&quot;Liberation Sans&quot;, sans-serif" font-size="41.67" fill="#262626" textLength="44.82" lengthAdjust="spacing">30</text>
<text x="1814.43" y="2071.4" font-family="&quot;Liberation Sans&quot;, sans-serif" font-size="41.67" fill="#262626" textLength="44.82" lengthAdjust="spacing">40</text>
<text x="2018.79" y="2071.4" font-family="&quot;Liberation Sans&quot;, sans-serif" font-size="41.67" fill="#262626" textLength="44.82" lengthAdjust="spacing">50</text>
<text x="975.67" y="2010.51" font-family="&quot;Liberation Sans&quot;, sans-serif" font-size="41.67" fill="#262626">1</text>
<text x="880.18" y="1878.31" font-family="&quot;Liberation Sans&quot;, sans-serif" font-size="41.67" fill="#262626" textLength="121.72" lengthAdjust="spacing">1.0005</text>
<text x="898.22" y="1746.11" font-family="&quot;Liberation Sans&quot;, sans-serif" font-size="41.67" fill="#262626" textLength="99.58" lengthAdjust="spacing">1.001</text>
<text x="880.18" y="1613.9" font-family="&quot;Liberation Sans&quot;, sans-serif" font-size="41.67" fill="#262626" textLength="121.72" lengthAdjust="spacing">1.0015</text>
<text x="1368.69" y="2128.4" font-family="&quot;Liberation Sans&quot;, sans-serif" font-size="45.83" fill="#262626" textLength="322.63" lengthAdjust="spacing">x-coordinate (m)</text>
<text x="1189.3" y="1586.6" font-family="&quot;Liberation Sans&quot;, sans-serif" font-size="45.83" font-weight="700" fill="#000" textLength="681.99" lengthAdjust="spacing">Conventional Method (Enlarged)</text>
<g transform="rotate(-90 857 1982.95)">
<text x="857" y="1982.95" font-family="&quot;Liberation Sans&quot;, sans-serif" font-size="45.83" fill="#262626" textLength="315.31" lengthAdjust="spacing">Damage Index (</text>
<text x="1172.31" y="1982.95" font-family="&quot;Liberation Serif&quot;, serif" font-size="45.83" font-style="italic" fill="#262626">β</text>
<text x="1195.14" y="1982.95" font-family="&quot;Liberation Sans&quot;, sans-serif" font-size="45.83" fill="#262626">)</text>
</g>
<text x="1030.91" y="2846.4" font-family="&quot;Liberation Serif&quot;, serif" font-size="79" fill="#000" textLength="93.17" lengthAdjust="spacing">(<tspan font-weight="700">b</tspan>)</text>
<line x1="359.97" y1="3000.4" x2="359.97" y2="3981.9" stroke="#1a1a1a" stroke-width="2" stroke-opacity="0.21" stroke-dasharray="2 1.84"/>
<line x1="431.93" y1="3000.4" x2="431.93" y2="3981.9" stroke="#1a1a1a" stroke-width="2" stroke-opacity="0.21" stroke-dasharray="2 1.84"/>
<line x1="503.9" y1="3000.4" x2="503.9" y2="3981.9" stroke="#1a1a1a" stroke-width="2" stroke-opacity="0.21" stroke-dasharray="2 1.84"/>
<line x1="575.86" y1="3000.4" x2="575.86" y2="3981.9" stroke="#1a1a1a" stroke-width="2" stroke-opacity="0.21" stroke-dasharray="2 1.84"/>
<line x1="719.8" y1="3000.4" x2="719.8" y2="3981.9" stroke="#1a1a1a" stroke-width="2" stroke-opacity="0.21" stroke-dasharray="2 1.84"/>
<line x1="791.76" y1="3000.4" x2="791.76" y2="3981.9" stroke="#1a1a1a" stroke-width="2" stroke-opacity="0.21" stroke-dasharray="2 1.84"/>
<line x1="863.73" y1="3000.4" x2="863.73" y2="3981.9" stroke="#1a1a1a" stroke-width="2" stroke-opacity="0.21" stroke-dasharray="2 1.84"/>
<line x1="935.69" y1="3000.4" x2="935.69" y2="3981.9" stroke="#1a1a1a" stroke-width="2" stroke-opacity="0.21" stroke-dasharray="2 1.84"/>
<line x1="1079.63" y1="3000.4" x2="1079.63" y2="3981.9" stroke="#1a1a1a" stroke-width="2" stroke-opacity="0.21" stroke-dasharray="2 1.84"/>
<line x1="1151.59" y1="3000.4" x2="1151.59" y2="3981.9" stroke="#1a1a1a" stroke-width="2" stroke-opacity="0.21" stroke-dasharray="2 1.84"/>
<line x1="1223.56" y1="3000.4" x2="1223.56" y2="3981.9" stroke="#1a1a1a" stroke-width="2" stroke-opacity="0.21" stroke-dasharray="2 1.84"/>
<line x1="1295.52" y1="3000.4" x2="1295.52" y2="3981.9" stroke="#1a1a1a" stroke-width="2" stroke-opacity="0.21" stroke-dasharray="2 1.84"/>
<line x1="1439.46" y1="3000.4" x2="1439.46" y2="3981.9" stroke="#1a1a1a" stroke-width="2" stroke-opacity="0.21" stroke-dasharray="2 1.84"/>
<line x1="1511.42" y1="3000.4" x2="1511.42" y2="3981.9" stroke="#1a1a1a" stroke-width="2" stroke-opacity="0.21" stroke-dasharray="2 1.84"/>
<line x1="1583.39" y1="3000.4" x2="1583.39" y2="3981.9" stroke="#1a1a1a" stroke-width="2" stroke-opacity="0.21" stroke-dasharray="2 1.84"/>
<line x1="1655.35" y1="3000.4" x2="1655.35" y2="3981.9" stroke="#1a1a1a" stroke-width="2" stroke-opacity="0.21" stroke-dasharray="2 1.84"/>
<line x1="1799.29" y1="3000.4" x2="1799.29" y2="3981.9" stroke="#1a1a1a" stroke-width="2" stroke-opacity="0.21" stroke-dasharray="2 1.84"/>
<line x1="1871.25" y1="3000.4" x2="1871.25" y2="3981.9" stroke="#1a1a1a" stroke-width="2" stroke-opacity="0.21" stroke-dasharray="2 1.84"/>
<line x1="1943.22" y1="3000.4" x2="1943.22" y2="3981.9" stroke="#1a1a1a" stroke-width="2" stroke-opacity="0.21" stroke-dasharray="2 1.84"/>
<line x1="2015.18" y1="3000.4" x2="2015.18" y2="3981.9" stroke="#1a1a1a" stroke-width="2" stroke-opacity="0.21" stroke-dasharray="2 1.84"/>
<line x1="647.83" y1="3000.4" x2="647.83" y2="3981.9" stroke="#262626" stroke-width="2" stroke-opacity="0.15"/>
<line x1="1007.66" y1="3000.4" x2="1007.66" y2="3981.9" stroke="#262626" stroke-width="2" stroke-opacity="0.15"/>
<line x1="1367.49" y1="3000.4" x2="1367.49" y2="3981.9" stroke="#262626" stroke-width="2" stroke-opacity="0.15"/>
<line x1="1727.32" y1="3000.4" x2="1727.32" y2="3981.9" stroke="#262626" stroke-width="2" stroke-opacity="0.15"/>
<line x1="289" y1="3842.4" x2="2086.15" y2="3842.4" stroke="#262626" stroke-width="2" stroke-opacity="0.15"/>
<line x1="289" y1="3701.9" x2="2086.15" y2="3701.9" stroke="#262626" stroke-width="2" stroke-opacity="0.15"/>
<line x1="289" y1="3561.4" x2="2086.15" y2="3561.4" stroke="#262626" stroke-width="2" stroke-opacity="0.15"/>
<line x1="289" y1="3420.9" x2="2086.15" y2="3420.9" stroke="#262626" stroke-width="2" stroke-opacity="0.15"/>
<line x1="289" y1="3280.4" x2="2086.15" y2="3280.4" stroke="#262626" stroke-width="2" stroke-opacity="0.15"/>
<line x1="289" y1="3139.9" x2="2086.15" y2="3139.9" stroke="#262626" stroke-width="2" stroke-opacity="0.15"/>
<rect x="288" y="2999.4" width="1799.15" height="983.5" fill="none" stroke="#262626" stroke-width="2"/>
<line x1="647.83" y1="3982.9" x2="647.83" y2="3963.9" stroke="#262626" stroke-width="2"/>
<line x1="647.83" y1="2999.4" x2="647.83" y2="3018.4" stroke="#262626" stroke-width="2"/>
<line x1="1007.66" y1="3982.9" x2="1007.66" y2="3963.9" stroke="#262626" stroke-width="2"/>
<line x1="1007.66" y1="2999.4" x2="1007.66" y2="3018.4" stroke="#262626" stroke-width="2"/>
<line x1="1367.49" y1="3982.9" x2="1367.49" y2="3963.9" stroke="#262626" stroke-width="2"/>
<line x1="1367.49" y1="2999.4" x2="1367.49" y2="3018.4" stroke="#262626" stroke-width="2"/>
<line x1="1727.32" y1="3982.9" x2="1727.32" y2="3963.9" stroke="#262626" stroke-width="2"/>
<line x1="1727.32" y1="2999.4" x2="1727.32" y2="3018.4" stroke="#262626" stroke-width="2"/>
<line x1="288" y1="3842.4" x2="307" y2="3842.4" stroke="#262626" stroke-width="2"/>
<line x1="2087.15" y1="3842.4" x2="2068.15" y2="3842.4" stroke="#262626" stroke-width="2"/>
<line x1="288" y1="3701.9" x2="307" y2="3701.9" stroke="#262626" stroke-width="2"/>
<line x1="2087.15" y1="3701.9" x2="2068.15" y2="3701.9" stroke="#262626" stroke-width="2"/>
<line x1="288" y1="3561.4" x2="307" y2="3561.4" stroke="#262626" stroke-width="2"/>
<line x1="2087.15" y1="3561.4" x2="2068.15" y2="3561.4" stroke="#262626" stroke-width="2"/>
<line x1="288" y1="3420.9" x2="307" y2="3420.9" stroke="#262626" stroke-width="2"/>
<line x1="2087.15" y1="3420.9" x2="2068.15" y2="3420.9" stroke="#262626" stroke-width="2"/>
<line x1="288" y1="3280.4" x2="307" y2="3280.4" stroke="#262626" stroke-width="2"/>
<line x1="2087.15" y1="3280.4" x2="2068.15" y2="3280.4" stroke="#262626" stroke-width="2"/>
<line x1="288" y1="3139.9" x2="307" y2="3139.9" stroke="#262626" stroke-width="2"/>
<line x1="2087.15" y1="3139.9" x2="2068.15" y2="3139.9" stroke="#262626" stroke-width="2"/>
<text x="271.48" y="4063.9" font-family="&quot;Liberation Serif&quot;, serif" font-size="66.67" fill="#262626">0</text>
<text x="615.2" y="4063.9" font-family="&quot;Liberation Serif&quot;, serif" font-size="66.67" fill="#262626" textLength="64.47" lengthAdjust="spacing">10</text>
<text x="975.03" y="4063.9" font-family="&quot;Liberation Serif&quot;, serif" font-size="66.67" fill="#262626" textLength="64.47" lengthAdjust="spacing">20</text>
<text x="1334.86" y="4063.9" font-family="&quot;Liberation Serif&quot;, serif" font-size="66.67" fill="#262626" textLength="64.47" lengthAdjust="spacing">30</text>
<text x="1694.69" y="4063.9" font-family="&quot;Liberation Serif&quot;, serif" font-size="66.67" fill="#262626" textLength="64.47" lengthAdjust="spacing">40</text>
<text x="2054.52" y="4063.9" font-family="&quot;Liberation Serif&quot;, serif" font-size="66.67" fill="#262626" textLength="64.47" lengthAdjust="spacing">50</text>
<text x="234.27" y="4006.6" font-family="&quot;Liberation Serif&quot;, serif" font-size="66.67" fill="#262626">0</text>
<text x="185.91" y="3866.1" font-family="&quot;Liberation Serif&quot;, serif" font-size="66.67" fill="#262626" textLength="80.59" lengthAdjust="spacing">0.2</text>
<text x="185.91" y="3725.6" font-family="&quot;Liberation Serif&quot;, serif" font-size="66.67" fill="#262626" textLength="80.59" lengthAdjust="spacing">0.4</text>
<text x="185.91" y="3585.1" font-family="&quot;Liberation Serif&quot;, serif" font-size="66.67" fill="#262626" textLength="80.59" lengthAdjust="spacing">0.6</text>
<text x="185.91" y="3444.6" font-family="&quot;Liberation Serif&quot;, serif" font-size="66.67" fill="#262626" textLength="80.59" lengthAdjust="spacing">0.8</text>
<text x="234.27" y="3304.1" font-family="&quot;Liberation Serif&quot;, serif" font-size="66.67" fill="#262626">1</text>
<text x="185.91" y="3163.6" font-family="&quot;Liberation Serif&quot;, serif" font-size="66.67" fill="#262626" textLength="80.59" lengthAdjust="spacing">1.2</text>
<text x="185.91" y="3023.1" font-family="&quot;Liberation Serif&quot;, serif" font-size="66.67" fill="#262626" textLength="80.59" lengthAdjust="spacing">1.4</text>
<text x="948.86" y="4146.1" font-family="&quot;Liberation Serif&quot;, serif" font-size="73.33" fill="#262626" textLength="478.44" lengthAdjust="spacing">x-coordinate (m)</text>
<g transform="rotate(-90 128 3822.73)">
<text x="128" y="3822.73" font-family="&quot;Liberation Serif&quot;, serif" font-size="73.33" fill="#262626" textLength="578.84" lengthAdjust="spacing">Damage Index (max</text>
<text x="707.34" y="3857.23" font-family="&quot;Liberation Serif&quot;, serif" font-size="54" fill="#262626" textLength="58.89" lengthAdjust="spacing">mj</text>
<text x="766.74" y="3822.73" font-family="&quot;Liberation Serif&quot;, serif" font-size="73.33" fill="#262626">)</text>
</g>
<text x="287.4" y="2989.9" font-family="&quot;DejaVu Sans Light&quot;, &quot;DejaVu Sans&quot;, sans-serif" font-size="60.8" fill="#262626">×</text>
<text x="339" y="2986.9" font-family="&quot;Liberation Serif&quot;, serif" font-size="66.67" fill="#262626" textLength="63.34" lengthAdjust="spacing">10</text>
<text x="403.5" y="2955.1" font-family="&quot;Liberation Serif&quot;, serif" font-size="53.33" fill="#262626" textLength="42.2" lengthAdjust="spacing">-4</text>
<polyline points="295.92,3815 300.99,3818.52 307.77,3823.31 315.85,3829.02 324.82,3835.31 334.23,3841.82 343.69,3848.22 352.77,3854.15 361.05,3859.26 368.91,3863.75 376.91,3868.04 384.92,3872.1 392.78,3875.92 400.33,3879.48 407.44,3882.76 413.94,3885.75 419.7,3888.41 424.1,3890.53 427.04,3892.01 429.09,3893.07 430.83,3893.91 432.85,3894.74 435.71,3895.78 440.01,3897.23 446.33,3899.3 454.72,3902.09 464.67,3905.44 475.87,3909.17 488.02,3913.12 500.8,3917.11 513.91,3920.98 527.04,3924.56 539.88,3927.68 552.19,3930.37 564.17,3932.81 576.15,3935.03 588.46,3937.09 601.45,3939.03 615.45,3940.9 630.79,3942.75 647.83,3944.61 666.88,3946.48 687.75,3948.3 710.03,3950.07 733.29,3951.77 757.11,3953.42 781.08,3955 804.76,3956.52 827.75,3957.96 850.23,3959.34 872.72,3960.66 895.21,3961.91 917.7,3963.1 940.19,3964.21 962.68,3965.26 985.17,3966.22 1007.66,3967.09 1030.15,3967.87 1052.64,3968.53 1075.13,3969.1 1097.62,3969.6 1120.11,3970.05 1142.6,3970.47 1165.09,3970.88 1187.58,3971.31 1210.06,3971.74 1232.55,3972.16 1255.04,3972.56 1277.53,3972.93 1300.02,3973.28 1322.51,3973.6 1345,3973.88 1367.49,3974.12 1389.98,3974.32 1412.47,3974.5 1434.96,3974.64 1457.45,3974.76 1479.94,3974.83 1502.43,3974.87 1524.92,3974.87 1547.4,3974.82 1569.89,3974.72 1592.38,3974.57 1614.87,3974.37 1637.36,3974.14 1659.85,3973.88 1682.34,3973.61 1704.83,3973.33 1727.32,3973.07 1749.81,3972.8 1772.3,3972.52 1794.79,3972.23 1817.28,3971.92 1839.77,3971.61 1862.26,3971.29 1884.75,3970.95 1907.24,3970.61 1930.95,3970.22 1956.43,3969.79 1982.61,3969.33 2008.44,3968.87 2032.86,3968.43 2054.82,3968.03 2073.27,3967.69 2087.15,3967.45" fill="none" stroke="#0072BD" stroke-width="8" stroke-linejoin="round" stroke-dasharray="31 8.1 15 8.1"/>
<polyline points="295.99,3096.27 304.08,3150.02 310.31,3280.61 316.1,3421.39 318.41,3460.03 320.49,3506.68 324.88,3553.32 327.19,3584.44 331.11,3623.29 334.2,3654.41 336.51,3677.73 340.72,3702.6 345.11,3724.38 353.7,3755.5 361.41,3775.66 369.21,3806.78 384,3833.2 399.51,3859.96 411.42,3874.01 419.7,3878.23 428.33,3886.66 444.89,3896.91 539.88,3924.17 561.47,3930.91 647.83,3938.64 827.75,3951.99 1007.66,3963.23 1079.63,3966.74 1367.49,3972.36 1547.4,3973.07 1727.32,3968.85 1907.24,3964.78 2078.87,3961.97" fill="none" stroke="#D95319" stroke-width="8" stroke-linejoin="round"/>
<rect x="293.4" y="2999.4" width="21.59" height="983.5" fill="#EDB120" fill-opacity="0.2"/>
<rect x="1393.5" y="3032.5" width="661.5" height="213.5" fill="#fff" stroke="#262626" stroke-width="2"/>
<line x1="1406" y1="3071.8" x2="1526.5" y2="3071.8" stroke="#0072BD" stroke-width="8" stroke-dasharray="31 8.1 15 8.1"/>
<line x1="1406" y1="3139.8" x2="1526.5" y2="3139.8" stroke="#D95319" stroke-width="8"/>
<rect x="1406" y="3182.6" width="120.5" height="49" fill="#EDB120" fill-opacity="0.2"/>
<text x="1535" y="3093.1" font-family="&quot;Liberation Serif&quot;, serif" font-size="60" fill="#000" textLength="507.62" lengthAdjust="spacing">Conventional Method</text>
<text x="1535" y="3160.9" font-family="&quot;Liberation Serif&quot;, serif" font-size="60" fill="#000" textLength="359.37" lengthAdjust="spacing">Hybrid Method</text>
<text x="1535" y="3228.8" font-family="&quot;Liberation Serif&quot;, serif" font-size="60" fill="#000" textLength="414.01" lengthAdjust="spacing">Damage Location</text>
<text x="1046.03" y="4297" font-family="&quot;Liberation Serif&quot;, serif" font-size="79" fill="#000" textLength="81.54" lengthAdjust="spacing">(<tspan font-weight="700">c</tspan>)</text>
</svg>
</body>
</html>
